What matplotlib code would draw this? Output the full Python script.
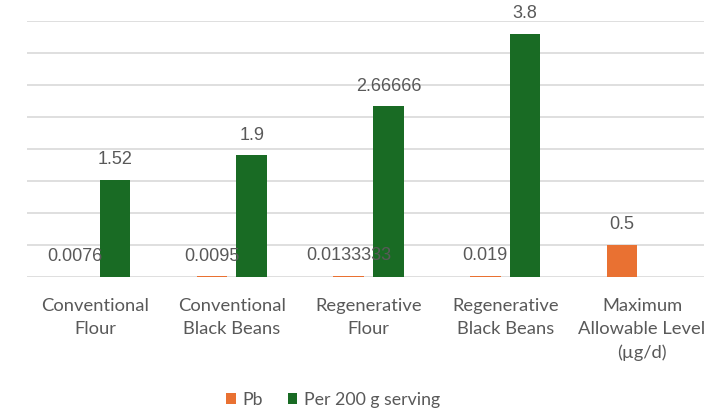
import numpy as np
import matplotlib.pyplot as plt

categories = ['Conventional\nFlour', 'Conventional\nBlack Beans', 'Regenerative\nFlour',
              'Regenerative\nBlack Beans', 'Maximum\nAllowable Level\n(µg/d)']
pb = [0.0076, 0.0095, 0.0133333, 0.019, 0.5]
per_serving = [1.52, 1.9, 2.66666, 3.8, np.nan]

ORANGE = '#e97132'
GREEN = '#196b24'
TEXT = '#595959'
GRID = '#d9d9d9'

fig = plt.figure(figsize=(7.04, 4.09), dpi=100)
ax = fig.add_axes([26.6 / 704, 132 / 409, 683.8 / 704, 256 / 409])

x = np.arange(len(categories))
w = 0.223
off = 0.146
b1 = ax.bar(x - off, pb, w, color=ORANGE, label='Pb', zorder=3)
b2 = ax.bar(x + off, per_serving, w, color=GREEN, label='Per 200 g serving', zorder=3)

for bars, vals in ((b1, pb), (b2, per_serving)):
    for rect, v in zip(bars, vals):
        if np.isnan(v):
            continue
        ax.annotate(f'{v:g}', (rect.get_x() + rect.get_width() / 2, v),
                    xytext=(0, 8.5), textcoords='offset points', ha='center', va='bottom',
                    fontsize=13, color=TEXT, family='Liberation Sans', zorder=4)

ax.set_xlim(-0.5, 4.5)
ax.set_ylim(0, 4)
ax.set_yticks(np.arange(0, 4.01, 0.5))
ax.yaxis.grid(True, color=GRID, lw=1.2, zorder=0)
ax.tick_params(axis='y', left=False, labelleft=False)
ax.tick_params(axis='x', bottom=False, pad=11.5)
ax.set_xticks(x, categories, fontsize=13.2, color=TEXT, family='Lato', linespacing=1.55)
for s in ax.spines.values():
    s.set_visible(False)

fig.legend(handles=[b1, b2], loc='center', bbox_to_anchor=(333 / 704, 9 / 409), ncol=2,
           frameon=False, handlelength=0.55, handleheight=0.55, handletextpad=0.35, columnspacing=1.4,
           prop={'family': 'Lato', 'size': 12.8}, labelcolor=TEXT)

fig.savefig('out.png', dpi=100)
